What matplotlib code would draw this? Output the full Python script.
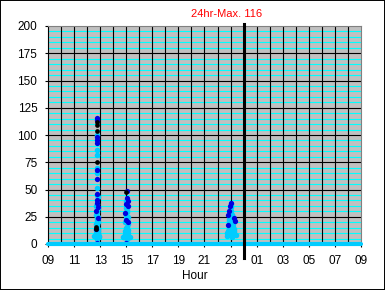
import numpy as np
import matplotlib
matplotlib.use('Agg')
import matplotlib.pyplot as plt
from matplotlib.patches import Rectangle

plt.rcParams['font.family'] = ['Liberation Sans', 'DejaVu Sans']

# hours are counted from 09 (day 1) to 09 (day 2) => 9..33
tick_hours = [9, 11, 13, 15, 17, 19, 21, 23, 25, 27, 29, 31, 33]
tick_labels = ['09', '11', '13', '15', '17', '19', '21', '23', '01', '03', '05', '07', '09']
midnight = 24
max_text = '24hr-Max. 116'

# readings at zero across the whole day
zero_hours = [9, 33]
zero_vals = [0, 0]

# light blue readings
lb_hours = [12.76, 12.76, 12.76, 12.76, 12.74, 12.78, 12.72, 12.80, 12.76, 12.70, 12.82, 12.74, 12.78,
            12.70, 12.84, 12.76, 12.72, 12.80, 12.68, 12.78, 12.74, 12.86, 12.70, 12.80, 12.76, 12.66,
            12.82, 12.74, 12.62, 12.78, 12.88, 12.70, 12.55, 12.76, 12.92,
            15.00, 15.05, 14.98, 15.08, 15.02, 14.95, 15.10, 15.00, 15.06, 14.92, 15.12, 15.04, 14.98,
            15.10, 14.94, 15.02, 15.14, 14.90, 15.06, 15.00, 14.75, 14.85, 15.20, 15.30, 15.05,
            23.00, 23.02, 22.98, 23.05, 22.95, 23.08, 23.00, 22.92, 23.10, 23.02, 22.90, 23.15, 22.98,
            23.05, 22.88, 23.20, 23.00, 22.85, 23.12, 23.25, 22.80, 23.05, 22.75, 23.30, 23.00, 22.95,
            23.40, 22.72, 23.10, 23.18, 22.90, 23.25, 22.95, 23.10]
lb_vals = [100, 86, 82, 70, 65, 51, 45, 43, 37, 35, 33, 31, 29,
           27, 25, 23, 21, 20, 18, 17, 15, 14, 13, 12, 11, 10,
           9, 8, 7, 7, 7, 6, 7, 5, 6,
           39, 36, 33, 31, 29, 27, 25, 24, 22, 20, 18, 16, 15,
           13, 12, 11, 10, 9, 8, 7, 6, 6, 6, 6, 5,
           37, 34, 32, 30, 29, 27, 26, 25, 24, 22, 21, 20, 19,
           18, 17, 16, 15, 14, 13, 12, 12, 11, 10, 10, 9, 8,
           8, 7, 6, 18, 23, 14, 11, 27]

# dark blue readings
db_hours = [12.78, 12.76, 12.76, 12.78, 12.74, 12.76, 12.74, 12.76, 12.78, 12.72, 12.80, 12.66,
            12.80, 12.70, 12.76,
            15.06, 15.04, 15.10, 14.98, 15.10, 14.90, 14.98, 15.16, 15.00,
            23.00, 22.98, 22.85, 22.80, 23.30, 23.35, 22.80]
db_vals = [116, 114, 98, 95, 93, 68, 60, 46, 40, 38, 34, 30,
           24, 14, 1,
           49, 42, 39, 37, 35, 28, 22, 20, 1,
           38, 35, 30, 27, 24, 21, 17]

# black readings
bk_hours = [12.76, 12.76, 12.76, 12.74, 12.70, 12.66, 14.98]
bk_vals = [112, 109, 104, 75, 16, 14, 48]

fig = plt.figure(figsize=(3.85, 2.90), dpi=100)
fig.patch.set_facecolor('white')
ax = fig.add_axes([48 / 385, 46 / 290, 313 / 385, 218 / 290])
ax.set_facecolor('#C0C0C0')

ax.set_xlim(9, 33)
ax.set_ylim(0, 200)

# grid: black every 25 and every hour, cyan every 5
for v in np.arange(5, 200, 5):
    if v % 25 != 0:
        ax.axhline(v, color='#00FFFF', lw=0.8, zorder=1)
for v in range(25, 200, 25):
    ax.axhline(v, color='black', lw=0.8, zorder=1.5)
for h in range(10, 33):
    ax.axvline(h, color='black', lw=0.8, zorder=1.5)

ax.plot([midnight, midnight], [-13, 202], color='black', lw=2.2, clip_on=False, zorder=5)

ax.plot(zero_hours, zero_vals, color='#00CCFF', lw=3, solid_capstyle='round', clip_on=False, zorder=4)
ax.plot(lb_hours, lb_vals, 'o', color='#00CCFF', ms=4, mec='none', zorder=3)
ax.plot(db_hours, db_vals, 'o', color='#0000E0', ms=3.8, mec='none', zorder=3)
ax.plot(bk_hours, bk_vals, 'o', color='black', ms=3.4, mec='none', zorder=3)

ax.set_xticks(tick_hours)
ax.set_xticklabels(tick_labels)
ax.set_yticks(range(0, 201, 25))
ax.tick_params(axis='both', direction='out', length=2.2, width=0.8, colors='black', labelsize=8.5, pad=5.5)

ax.spines['left'].set_color('black')
ax.spines['left'].set_linewidth(0.8)
ax.spines['bottom'].set_visible(False)
for s in ['top', 'right']:
    ax.spines[s].set_color('#808080')
    ax.spines[s].set_linewidth(0.8)

fig.text(195 / 385, 1 - 276 / 290, 'Hour', ha='center', va='center', fontsize=8.5)
fig.text(227 / 385, 1 - 14 / 290, max_text, ha='center', va='center', fontsize=8, color='#FF0000')

fig.patches.append(Rectangle((0, 0), 1, 1, transform=fig.transFigure, fill=False,
                             edgecolor='black', lw=1.4, zorder=10))

fig.savefig('out.png', dpi=100)
